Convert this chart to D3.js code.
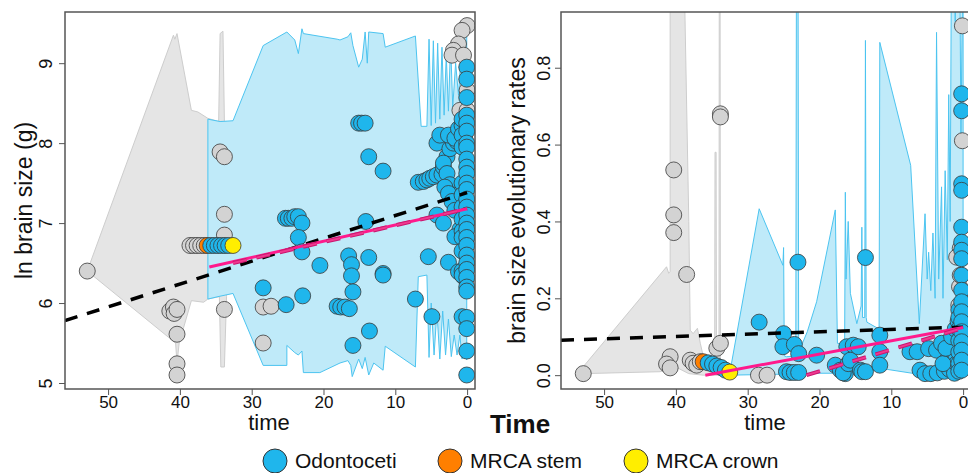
<!DOCTYPE html>
<html>
<head>
<meta charset="utf-8">
<script src="https://cdn.jsdelivr.net/npm/d3@7"></script>
<style>
  body { margin: 0; background: #fff; }
  text { font-family: "Liberation Sans", Arial, sans-serif; fill: #111; }
</style>
</head>
<body>
<script>
var timeTicks = [50, 40, 30, 20, 10, 0];
var leftYTicks = [5, 6, 7, 8, 9];
var rightYTicks = [0, 0.2, 0.4, 0.6, 0.8];
var legendLabels = ["Odontoceti", "MRCA stem", "MRCA crown"];
var legendColors = ["#1fb6ec", "#ff7f00", "#ffee00"];

// ---- left panel: ln brain size ----
var leftGreyBand = [
    [52.9, 6.40], [40.9, 9.35], [40.7, 9.30], [40.4, 9.37], [38.4, 8.41], [37.5, 8.39], [36.1, 8.31],
    [34.6, 8.27], [34.4, 9.37], [34.0, 9.40], [33.8, 8.27], [33.5, 8.27],
    [33.5, 6.08], [33.8, 5.20], [34.3, 5.20], [34.5, 6.08], [36.1, 6.05], [36.7, 6.01], [38.4, 6.03],
    [40.1, 5.50], [40.4, 5.25], [40.6, 5.50]
];
var leftBlueBand = [
    [36.1, 8.30], [34.4, 8.27], [32.6, 8.28], [28.4, 9.22], [25.1, 9.39], [24.0, 9.29], [23.5, 9.12],
    [23.0, 9.43], [22.8, 9.37], [18.1, 9.30], [17.7, 9.29], [16.6, 9.33], [16.2, 9.38], [15.9, 9.22],
    [15.1, 8.95], [14.6, 9.05], [14.2, 9.39], [13.9, 9.00], [13.7, 9.39], [11.7, 9.37], [11.4, 9.20],
    [7.2, 9.34], [6.4, 8.21], [5.6, 8.21], [5.3, 9.30], [5.0, 8.22], [4.7, 9.28], [4.4, 8.25],
    [4.1, 9.25], [3.8, 8.30], [3.5, 9.20], [3.2, 8.35], [2.9, 9.10], [2.6, 8.40], [2.3, 9.25],
    [2.0, 8.45], [1.6, 9.00], [1.2, 8.60], [0.7, 9.30], [0.05, 9.40],
    [0.05, 5.29], [0.4, 5.40], [0.7, 5.30], [1.0, 5.60], [1.4, 5.35], [1.8, 5.60], [2.2, 5.33],
    [2.6, 5.80], [3.0, 5.35], [3.4, 5.90], [3.8, 5.30], [4.2, 5.90], [4.6, 5.35], [5.0, 6.00],
    [5.3, 5.32], [5.6, 6.35], [6.8, 6.33], [7.2, 5.20], [11.4, 5.46], [11.7, 5.16], [13.0, 5.25],
    [13.7, 5.10], [14.2, 5.32], [14.6, 5.18], [15.1, 5.30], [16.0, 5.08], [16.2, 5.22], [16.6, 5.28],
    [17.7, 5.25], [20.5, 5.13], [22.8, 5.13], [23.0, 5.40], [23.5, 5.35], [24.0, 5.38], [25.1, 5.47],
    [25.1, 5.22], [28.4, 5.22], [32.6, 6.12], [34.7, 6.08], [36.1, 6.05]
];
var leftGreyPts = [
    [52.9, 6.40], [41.4, 5.90], [40.9, 5.95], [40.8, 5.87], [40.4, 5.92], [40.4, 5.61], [40.4, 5.24], [40.4, 5.10],
    [38.6, 6.72], [38.1, 6.72], [37.6, 6.72], [37.1, 6.72], [36.6, 6.72],
    [34.4, 7.89], [33.8, 7.83], [33.8, 7.11], [33.8, 6.85], [33.8, 5.92],
    [28.4, 5.95], [27.3, 5.96], [28.4, 5.50],
    [0.0, 9.47], [0.7, 9.41], [1.2, 9.24], [1.9, 9.16], [2.1, 9.10], [0.5, 9.10],
    [1.0, 8.41], [0.0, 8.66], [0.0, 8.41], [0.3, 8.05]
];
var leftBluePts = [
    [35.7, 6.72], [35.2, 6.72], [34.7, 6.72], [34.2, 6.72], [33.7, 6.72], [33.2, 6.72],
    [15.1, 8.25], [14.7, 8.25], [14.2, 8.25], [13.7, 7.83], [11.7, 7.65], [4.2, 8.00],
    [25.3, 7.06], [24.9, 7.06], [24.4, 7.06], [24.0, 7.08], [23.5, 7.08], [23.0, 7.00],
    [14.1, 7.02], [23.5, 6.82], [23.0, 6.64], [20.5, 6.47], [16.5, 6.59], [16.1, 6.48], [16.1, 6.34],
    [13.7, 6.57], [11.7, 6.37], [11.7, 6.35], [28.4, 6.19], [22.9, 6.09], [25.2, 5.98], [15.9, 6.14],
    [18.1, 5.96], [17.6, 5.95], [17.0, 5.95], [16.4, 5.93], [13.6, 5.65], [15.9, 5.47],
    [7.2, 6.05], [4.9, 5.83], [5.4, 6.58], [2.6, 6.51],
    [6.8, 7.51], [6.1, 7.52], [5.6, 7.54], [5.2, 7.56], [4.7, 7.58], [4.2, 7.60], [3.5, 7.61],
    [3.3, 7.70], [2.8, 7.83], [2.4, 7.93], [1.9, 8.00], [1.4, 8.02],
    [3.8, 8.10], [2.6, 8.10], [1.7, 8.06], [1.2, 8.18], [0.7, 8.22],
    [3.3, 7.75], [2.8, 7.62], [2.4, 7.48], [1.9, 7.35], [1.4, 7.29], [3.1, 7.45], [2.6, 7.37],
    [2.1, 7.27], [1.7, 7.16], [4.2, 7.10], [3.3, 7.00], [1.0, 6.92], [1.7, 6.83], [1.2, 6.39], [0.5, 6.33],
    [0.7, 8.30], [0.7, 8.10], [0.7, 7.95], [0.7, 7.50], [0.7, 7.35], [0.7, 7.20], [0.7, 7.05],
    [0.7, 6.90], [0.7, 6.82], [0.7, 6.65], [0.7, 6.40], [0.7, 6.35], [0.7, 5.83],
    [0.05, 8.95], [0.05, 8.80], [0.05, 8.57], [0.05, 8.35], [0.05, 8.25], [0.05, 8.15], [0.05, 8.00],
    [0.05, 7.95], [0.05, 7.80], [0.05, 7.70], [0.05, 7.62], [0.05, 7.50], [0.05, 7.42], [0.05, 7.30],
    [0.05, 7.20], [0.05, 7.10], [0.05, 7.00], [0.05, 6.92], [0.05, 6.82], [0.05, 6.72], [0.05, 6.60],
    [0.05, 6.50], [0.05, 6.42], [0.05, 6.32], [0.05, 6.20], [0.05, 6.15], [0.05, 5.82], [0.05, 5.68],
    [0.05, 5.40], [0.05, 5.10]
];
var leftStem = [[36.2, 6.72]];
var leftCrown = [[32.6, 6.72]];
var leftTrend = [[56.0, 5.78], [0.0, 7.38]];
var leftCladeFit = [[35.9, 6.45], [0.0, 7.18]];
var leftCrownFit = [[32.6, 6.50], [0.0, 7.18]];

// ---- right panel: evolutionary rates ----
var rightGreyBand = [
    [52.9, 0.004], [52.9, 0.022], [41.3, 0.282], [41.0, 0.265], [40.8, 0.27], [40.8, 1.2], [39.0, 1.2],
    [38.2, 0.40], [38.0, 0.117], [37.6, 0.108], [37.0, 0.122], [36.6, 0.083], [36.2, 0.05], [35.0, 0.03],
    [34.6, 0.03], [34.55, 0.58], [34.4, 0.58], [34.35, 0.03], [34.0, 0.03], [33.95, 1.2], [33.85, 1.2],
    [33.8, 0.02], [33.5, 0.01], [33.0, 0.0], [36.2, 0.0], [38.2, 0.004], [40.1, 0.022], [42.2, 0.009]
];
var rightBlueBand = [
    [32.5, 0.005], [28.4, 0.433], [25.1, 0.286], [25.0, 0.332], [24.9, 0.05], [24.6, 0.048], [23.3, 0.05],
    [23.2, 1.2], [23.0, 1.2], [22.9, 0.06], [21.7, 0.113], [20.4, 0.191], [17.8, 0.43], [17.5, 0.083],
    [16.5, 0.08], [16.4, 0.476], [16.3, 0.25], [16.0, 0.40], [15.7, 0.213], [14.8, 0.134], [14.2, 0.18],
    [14.1, 0.385], [14.0, 0.15], [13.7, 0.15], [13.6, 0.871], [13.5, 0.15], [13.4, 0.138], [11.7, 0.12],
    [11.6, 0.866], [7.3, 0.546], [6.1, 0.134], [5.3, 0.42], [5.0, 0.25], [4.8, 0.32], [4.5, 0.22],
    [4.2, 0.37], [3.9, 0.20], [3.7, 0.892], [3.4, 0.25], [3.0, 0.49], [2.8, 0.20], [2.5, 0.532],
    [2.2, 0.30], [2.0, 0.73], [1.8, 0.40], [1.6, 1.2], [1.3, 1.2], [1.1, 0.92], [0.8, 1.2], [0.5, 1.2],
    [0.3, 0.60], [0.0, 1.2],
    [0.0, 0.002], [7.1, 0.005], [11.6, 0.018], [13.0, 0.01], [16.0, 0.005], [20.0, 0.005], [24.0, 0.003],
    [32.5, 0.0]
];
var rightGreyPts = [
    [52.9, 0.004], [40.3, 0.534], [40.3, 0.417], [40.3, 0.371], [38.5, 0.262], [40.8, 0.048], [41.3, 0.029],
    [40.8, 0.019], [38.0, 0.039], [37.6, 0.031], [37.1, 0.026], [36.6, 0.035], [33.8, 0.680], [33.8, 0.672],
    [34.3, 0.070], [33.8, 0.083], [28.5, 0.0], [27.3, 0.0],
    [0.1, 0.909], [0.1, 0.610], [0.4, 0.33], [0.5, 0.23], [0.6, 0.182], [0.9, 0.307], [0.4, 0.26]
];
var rightBluePts = [
    [35.5, 0.032], [34.9, 0.029], [34.3, 0.024], [33.7, 0.020], [33.1, 0.013],
    [28.4, 0.138], [23.0, 0.294], [13.6, 0.306],
    [25.0, 0.108], [25.1, 0.074], [23.5, 0.080], [22.9, 0.056], [20.4, 0.052],
    [24.6, 0.009], [24.1, 0.007], [23.5, 0.007], [22.9, 0.007],
    [17.8, 0.026], [17.1, 0.013], [16.4, 0.004], [16.7, 0.006], [16.2, 0.074], [16.0, 0.030], [15.3, 0.078],
    [15.7, 0.039], [14.6, 0.074], [14.3, 0.013], [14.1, 0.009], [13.6, 0.009],
    [11.6, 0.104], [11.6, 0.061], [11.6, 0.026],
    [7.4, 0.061], [6.4, 0.061], [4.8, 0.069], [3.7, 0.065], [3.0, 0.083],
    [6.0, 0.013], [5.3, 0.004], [4.5, 0.004], [3.6, 0.006], [2.6, 0.010], [1.9, 0.015],
    [2.2, 0.040], [1.8, 0.060], [1.5, 0.030], [1.3, 0.090], [1.0, 0.050], [0.8, 0.110], [0.6, 0.020],
    [0.5, 0.070], [1.2, 0.005], [0.9, 0.030], [0.4, 0.100], [0.3, 0.040], [2.8, 0.030], [2.4, 0.070],
    [1.6, 0.100], [1.1, 0.120], [0.7, 0.140],
    [0.6, 0.170], [0.6, 0.150], [0.6, 0.120], [0.6, 0.090], [0.6, 0.060], [0.6, 0.030], [0.6, 0.010],
    [0.2, 0.732], [0.2, 0.688], [0.2, 0.498], [0.2, 0.481], [0.2, 0.385], [0.2, 0.346], [0.2, 0.325],
    [0.2, 0.303], [0.2, 0.260], [0.2, 0.221], [0.2, 0.191], [0.2, 0.165], [0.2, 0.139], [0.2, 0.113],
    [0.2, 0.087], [0.2, 0.065], [0.2, 0.039], [0.2, 0.013]
];
var rightStem = [[36.2, 0.035]];
var rightCrown = [[32.5, 0.008]];
var rightTrend = [[56.0, 0.091], [0.0, 0.125]];
var rightCladeFit = [[35.9, 0.0], [0.0, 0.124]];
var rightCrownFit = [[21.8, 0.0], [0.0, 0.123]];

var plotTop = 12, plotBottom = 389;

var svg = d3.select("body").append("svg")
    .attr("width", 968)
    .attr("height", 473);

var panels = [
    {id: "l", left: 65, right: 475, yDomain: [4.925, 9.64], yTicks: leftYTicks, fmt: d3.format("d"),
     title: "ln brain size (g)", titleX: 32, tickX: 52,
     greyBand: leftGreyBand, blueBand: leftBlueBand, grey: leftGreyPts, blue: leftBluePts,
     stem: leftStem, crown: leftCrown, trend: leftTrend, cladeFit: leftCladeFit, crownFit: leftCrownFit},
    {id: "r", left: 561, right: 971, yDomain: [-0.036, 0.945], yTicks: rightYTicks, fmt: d3.format(".1f"),
     title: "brain size evolutionary rates", titleX: 525, tickX: 550,
     greyBand: rightGreyBand, blueBand: rightBlueBand, grey: rightGreyPts, blue: rightBluePts,
     stem: rightStem, crown: rightCrown, trend: rightTrend, cladeFit: rightCladeFit, crownFit: rightCrownFit}
];

panels.forEach(function(p) {
    var x = d3.scaleLinear().domain([56, -1.1]).range([p.left, p.right]),
        y = d3.scaleLinear().domain(p.yDomain).range([plotBottom, plotTop]);

    var line = d3.line()
        .x(function(d) { return x(d[0]); })
        .y(function(d) { return y(d[1]); });

    svg.append("clipPath").attr("id", "clip-" + p.id)
      .append("rect")
        .attr("x", p.left).attr("y", plotTop)
        .attr("width", p.right - p.left).attr("height", plotBottom - plotTop);

    var g = svg.append("g").attr("clip-path", "url(#clip-" + p.id + ")");

    // confidence bands
    g.append("path")
        .attr("d", line(p.greyBand) + "Z")
        .attr("fill", "#e5e5e5")
        .attr("stroke", "#cdcdcd")
        .attr("stroke-width", 1);

    g.append("path")
        .attr("d", line(p.blueBand) + "Z")
        .attr("fill", "#bfeaf9")
        .attr("stroke", "#4cc4f0")
        .attr("stroke-width", 1);

    // points (stem under the clade, crown on top)
    function dots(data, fill) {
        g.selectAll(null)
            .data(data)
            .enter().append("circle")
            .attr("cx", function(d) { return x(d[0]); })
            .attr("cy", function(d) { return y(d[1]); })
            .attr("r", 8)
            .attr("fill", fill)
            .attr("stroke", "#3a3a3a")
            .attr("stroke-width", 0.8);
    }
    dots(p.grey, "#d3d3d3");
    dots(p.stem, legendColors[1]);
    dots(p.blue, legendColors[0]);
    dots(p.crown, legendColors[2]);

    // regression lines
    g.append("path")
        .attr("d", line(p.trend))
        .attr("fill", "none")
        .attr("stroke", "#000")
        .attr("stroke-width", 3.5)
        .attr("stroke-dasharray", "13,10");

    g.append("path")
        .attr("d", line(p.cladeFit))
        .attr("fill", "none")
        .attr("stroke", "#ff1a8c")
        .attr("stroke-width", 3);

    g.append("path")
        .attr("d", line(p.crownFit))
        .attr("fill", "none")
        .attr("stroke", "#c9166f")
        .attr("stroke-width", 4)
        .attr("stroke-dasharray", "14,10");

    g.append("path")
        .attr("d", line(p.crownFit))
        .attr("fill", "none")
        .attr("stroke", "#f0388f")
        .attr("stroke-width", 2)
        .attr("stroke-dasharray", "14,10");

    // frame
    svg.append("rect")
        .attr("x", p.left).attr("y", plotTop)
        .attr("width", p.right - p.left).attr("height", plotBottom - plotTop)
        .attr("fill", "none")
        .attr("stroke", "#555")
        .attr("stroke-width", 1.5);

    // x axis
    var xAxis = svg.append("g")
        .attr("transform", "translate(0," + plotBottom + ")")
        .call(d3.axisBottom(x).tickValues(timeTicks).tickSize(6).tickPadding(2));
    xAxis.select(".domain").remove();
    xAxis.selectAll(".tick line").attr("stroke", "#555");
    xAxis.selectAll(".tick text")
        .attr("y", 19)
        .attr("dy", 0)
        .style("font-size", "17px")
        .attr("fill", "#111");

    svg.append("text")
        .attr("x", (p.left + p.right) / 2 - 1)
        .attr("y", 430)
        .attr("text-anchor", "middle")
        .style("font-size", "22px")
        .text("time");

    // y axis
    var yAxis = svg.append("g")
        .attr("transform", "translate(" + p.left + ",0)")
        .call(d3.axisLeft(y).tickValues(p.yTicks).tickFormat(p.fmt).tickSize(6));
    yAxis.select(".domain").remove();
    yAxis.selectAll(".tick line").attr("stroke", "#555");
    yAxis.selectAll(".tick text")
        .attr("x", 0).attr("dy", 0)
        .attr("text-anchor", "middle")
        .attr("transform", "translate(" + (p.tickX - p.left) + ",0) rotate(-90)")
        .style("font-size", "18px")
        .attr("fill", "#111");

    svg.append("text")
        .attr("transform", "translate(" + p.titleX + "," + ((plotTop + plotBottom) / 2) + ") rotate(-90)")
        .attr("text-anchor", "middle")
        .style("font-size", "23px")
        .text(p.title);
});

svg.append("text")
    .attr("x", 520)
    .attr("y", 433)
    .attr("text-anchor", "middle")
    .style("font-size", "26px")
    .style("font-weight", "bold")
    .text("Time");

// legend
var legendX = [275, 450, 636];
var legend = svg.selectAll(".legend")
    .data(legendLabels)
    .enter().append("g")
    .attr("class", "legend")
    .attr("transform", function(d, i) { return "translate(" + legendX[i] + ",461)"; });

legend.append("circle")
    .attr("r", 12)
    .attr("fill", function(d, i) { return legendColors[i]; })
    .attr("stroke", "#333")
    .attr("stroke-width", 1);

legend.append("text")
    .attr("x", 20)
    .attr("y", 7)
    .style("font-size", "21px")
    .text(function(d) { return d; });
</script>
</body>
</html>
